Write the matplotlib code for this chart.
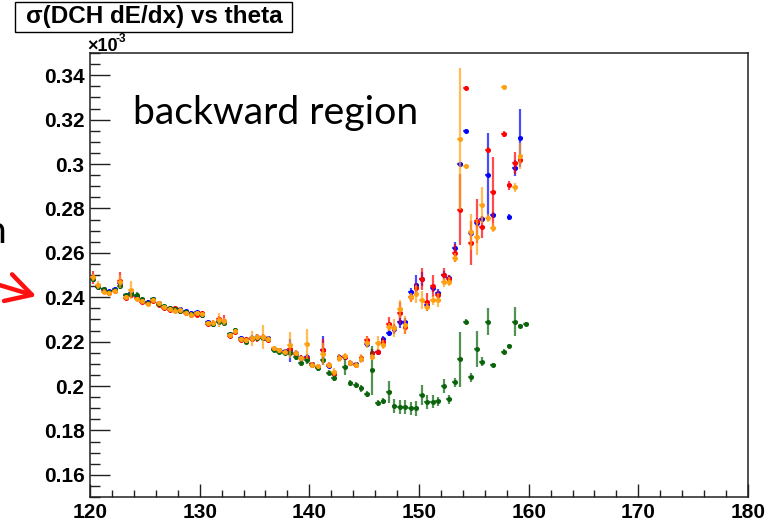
import numpy as np
import matplotlib
matplotlib.use("Agg")
import matplotlib.pyplot as plt
from matplotlib.ticker import MultipleLocator, FixedLocator, FixedFormatter
from matplotlib.patches import Rectangle, FancyArrowPatch
from matplotlib.colors import to_rgba

nan = np.nan

# ---------------- data ----------------
theta = np.arange(120.25, 160.0, 0.5)   # bin centres (0.5 deg bins)
theta_halfwidth = 0.25

red = [
    .2488, .2452, .2428, .2420, .2430, .2475, .2398, .2412, .2395, .2380,
    .2372, .2385, .2365, .2350, .2342, .2350, .2338, .2330, .2320, .2322,
    .2328, .2280, .2285, .2300, .2295, .2226, .2245, .2208, .2210, .2212,
    .2216, .2222, .2208, .2167, .2160, .2152, .2165, .2145, .2126, .2126,
    .2098, .2086, .2160, .2095, .2055, .2126, .2130, .2104, .2095, .2126,
    .2205, .2150, .2153, .2200, .2280, .2260, .2330, .2266, .2400, .2440,
    .2482, .2378, .2450, .2410, .2500, .2480, .2600, .2793, .3342, .2644,
    .2743, .2716, .3063, .2874, nan, .3135, .2905, .3005, .3018, nan]

blue = [
    .2482, .2448, .2435, .2426, .2436, .2462, .2410, .2418, .2404, .2386,
    .2378, .2390, .2372, .2358, .2350, .2344, .2346, .2336, .2328, .2332,
    .2320, .2288, .2280, .2294, .2288, .2233, .2250, .2215, .2204, .2218,
    .2222, .2218, .2215, .2165, .2163, .2157, .2160, .2150, .2128, .2130,
    .2100, .2084, .2160, .2092, .2055, .2130, .2130, .2104, .2097, .2120,
    .2190, .2150, .2153, .2212, .2239, .2255, .2290, .2290, .2423, .2455,
    .2482, .2365, .2440, .2419, .2500, .2486, .2620, .3000, .3149, .2689,
    .2735, .2752, .2950, .2770, nan, nan, .2761, .2982, .3117, nan]

green = [
    .2480, .2446, .2438, .2422, .2434, .2452, .2408, .2416, .2410, .2390,
    .2376, .2392, .2368, .2360, .2352, .2348, .2340, .2335, .2326, .2330,
    .2322, .2282, .2278, .2290, .2284, .2232, .2252, .2210, .2200, .2214,
    .2218, .2216, .2210, .2162, .2155, .2150, .2150, .2130, .2104, .2115,
    .2095, .2080, .2117, .2060, .2036, nan, .2086, .2014, .2005, .1990,
    .1964, .2070, .1923, .1932, .1973, .1910, .1905, .1905, .1900, .1900,
    .1960, .1928, .1930, .1932, .2000, .1940, .2017, .2120, .2290, .2040,
    .2166, .2110, .2290, .2095, nan, .2155, .2180, .2290, .2270, .2280]

orange = [
    .2490, .2455, .2425, .2418, .2428, .2470, .2402, .2432, .2392, .2382,
    .2370, .2388, .2375, .2354, .2345, .2340, .2344, .2330, .2322, .2328,
    .2325, .2285, .2286, .2297, .2292, .2228, .2248, .2212, .2206, .2216,
    .2220, .2220, .2212, .2170, .2160, .2155, .2185, .2150, .2124, .2190,
    .2095, .2088, .2145, .2095, .2063, .2126, .2135, .2104, .2095, .2122,
    .2194, .2130, .2194, .2185, .2266, .2260, .2347, .2275, .2400, .2414,
    .2387, .2356, .2387, .2387, .2468, .2470, .2577, .3113, .2991, .2694,
    .2671, .2815, .2757, .2712, nan, .3347, nan, .2896, .3036, nan]

red_err = [
    .0030, .0010, .0008, .0008, .0008, .0037, .0010, .0012, .0010, .0008,
    .0008, .0010, .0008, .0008, .0008, .0010, .0010, .0008, .0010, .0008,
    .0010, .0010, .0012, .0015, .0026, .0010, .0010, .0010, .0012, .0010,
    .0020, .0012, .0010, .0012, .0010, .0010, .0015, .0012, .0012, .0015,
    .0010, .0010, .0050, .0012, .0012, .0015, .0015, .0012, .0012, .0015,
    .0020, .0015, .0015, .0015, .0030, .0020, .0050, .0030, .0020, .0025,
    .0050, .0040, .0050, .0020, .0030, .0020, .0040, .0160, .0010, .0100,
    .0100, .0050, .0015, .0158, nan, .0015, .0020, .0050, .0020, nan]

blue_err = [
    .0010, .0008, .0008, .0008, .0008, .0015, .0008, .0010, .0010, .0008,
    .0008, .0008, .0008, .0008, .0008, .0008, .0008, .0008, .0008, .0008,
    .0008, .0010, .0010, .0012, .0012, .0008, .0010, .0010, .0010, .0010,
    .0010, .0010, .0010, .0010, .0010, .0010, .0050, .0010, .0010, .0012,
    .0010, .0010, .0065, .0010, .0012, .0012, .0012, .0010, .0010, .0012,
    .0015, .0015, .0015, .0015, .0015, .0020, .0030, .0015, .0020, .0045,
    .0030, .0020, .0015, .0020, .0020, .0015, .0030, .0010, .0010, .0015,
    .0020, .0015, .0190, .0015, nan, nan, .0015, .0035, .0130, nan]

green_err = [
    .0010, .0010, .0010, .0008, .0008, .0015, .0010, .0010, .0012, .0010,
    .0008, .0010, .0008, .0008, .0008, .0008, .0008, .0008, .0008, .0008,
    .0008, .0010, .0010, .0010, .0010, .0008, .0010, .0008, .0008, .0008,
    .0008, .0008, .0010, .0010, .0010, .0010, .0012, .0012, .0012, .0015,
    .0010, .0012, .0012, .0012, .0012, nan, .0035, .0012, .0012, .0015,
    .0015, .0112, .0012, .0012, .0050, .0030, .0030, .0030, .0030, .0034,
    .0045, .0030, .0030, .0020, .0030, .0020, .0020, .0124, .0010, .0020,
    .0080, .0020, .0060, .0010, nan, .0010, .0010, .0065, .0010, .0010]

orange_err = [
    .0015, .0020, .0010, .0010, .0010, .0030, .0010, .0040, .0010, .0010,
    .0010, .0010, .0010, .0010, .0010, .0010, .0010, .0010, .0010, .0010,
    .0010, .0010, .0012, .0030, .0015, .0010, .0010, .0010, .0012, .0034,
    .0015, .0055, .0015, .0012, .0012, .0012, .0060, .0012, .0012, .0068,
    .0012, .0012, .0050, .0012, .0020, .0020, .0015, .0015, .0015, .0020,
    .0025, .0015, .0030, .0020, .0020, .0040, .0040, .0040, .0020, .0040,
    .0040, .0020, .0020, .0030, .0020, .0020, .0020, .0320, .0010, .0080,
    .0080, .0080, .0020, .0020, nan, .0010, nan, .0020, .0060, nan]

x_ticks = [120, 130, 140, 150, 160, 170, 180]
x_tick_labels = ["120", "130", "140", "150", "160", "170", "180"]
y_ticks = [0.16, 0.18, 0.20, 0.22, 0.24, 0.26, 0.28, 0.30, 0.32, 0.34]
y_tick_labels = ["0.16", "0.18", "0.2", "0.22", "0.24", "0.26", "0.28",
                 "0.3", "0.32", "0.34"]

title_text = "σ(DCH dE/dx) vs theta"
annotation_text = "backward region"

# ---------------- figure ----------------
W, H = 769, 522
fig = plt.figure(figsize=(W / 100, H / 100), dpi=100)
fig.patch.set_facecolor("white")

L, R, T, B = 90, 748, 53, 497
ax = fig.add_axes([L / W, (H - B) / H, (R - L) / W, (B - T) / H])
ax.set_xlim(120, 180)
ax.set_ylim(0.15, 0.35)

series = [
    (blue, blue_err, "#0000ff"),
    (red, red_err, "#ff0000"),
    (green, green_err, "#0b640b"),
    (orange, orange_err, "#ffa010"),
]
for z, (vals, errs, col) in enumerate(series):
    ax.errorbar(theta, vals, yerr=errs, xerr=theta_halfwidth, fmt="o",
                ms=3.6, mfc=col, mec=col, mew=0,
                ecolor=to_rgba(col, 0.7), elinewidth=1.6, capsize=0,
                zorder=3 + z)

# axes styling (ROOT like)
for sp in ax.spines.values():
    sp.set_linewidth(1.1)
    sp.set_color("#202020")

ax.xaxis.set_major_locator(FixedLocator(x_ticks))
ax.xaxis.set_major_formatter(FixedFormatter(x_tick_labels))
ax.xaxis.set_minor_locator(MultipleLocator(2))
ax.yaxis.set_major_locator(FixedLocator(y_ticks))
ax.yaxis.set_major_formatter(FixedFormatter(y_tick_labels))
ax.yaxis.set_minor_locator(MultipleLocator(0.005))
ax.tick_params(axis="both", which="both", direction="in", top=False,
               right=False, width=1.0, color="#202020")
ax.tick_params(axis="y", which="major", length=14.5, pad=4.0)
ax.tick_params(axis="y", which="minor", length=7.2)
ax.tick_params(axis="x", which="major", length=9.6, pad=4.0)
ax.tick_params(axis="x", which="minor", length=4.8)
for lab in ax.get_xticklabels() + ax.get_yticklabels():
    lab.set_fontfamily(["Liberation Sans", "DejaVu Sans"])
    lab.set_fontweight("bold")
    lab.set_fontsize(15)


def fx(px):
    return px / W


def fy(py):
    return 1 - py / H


# title box
fig.patches.append(Rectangle((fx(15), fy(32)), (292 - 15) / W, 30 / H,
                             transform=fig.transFigure, facecolor="white",
                             edgecolor="black", linewidth=1.0, zorder=5))
fig.text(fx(154), fy(17), title_text, ha="center", va="center",
         fontsize=17.5, fontweight="bold",
         family=["Liberation Sans", "DejaVu Sans"], zorder=6)

# exponent label
fig.text(fx(87), fy(51), "×10", ha="left", va="baseline", fontsize=13,
         fontweight="bold", family=["Liberation Sans", "DejaVu Sans"])
fig.text(fx(116), fy(42), "-3", ha="left", va="baseline", fontsize=8.5,
         fontweight="bold", family=["Liberation Sans", "DejaVu Sans"])

# overlay annotations
fig.text(fx(133), fy(124), annotation_text, ha="left", va="baseline",
         fontsize=28.3, family=["Lato", "DejaVu Sans"], color="black")
fig.text(fx(6), fy(243), "n", ha="right", va="baseline",
         fontsize=28.3, family=["Lato", "DejaVu Sans"], color="black")
arrow = FancyArrowPatch((fx(-4), fy(284)), (fx(39), fy(297)),
                        transform=fig.transFigure,
                        arrowstyle="->,head_length=0.9,head_width=0.5",
                        mutation_scale=20, color="#ff1010", linewidth=3.2)
fig.patches.append(arrow)

fig.savefig("out.png", dpi=100)
